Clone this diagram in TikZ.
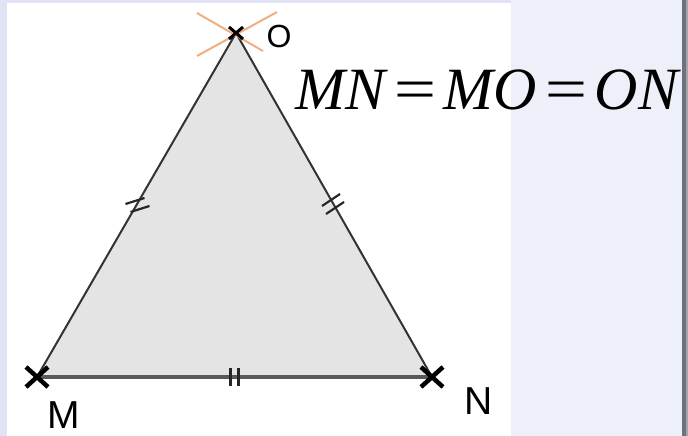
\documentclass[tikz,border=0pt]{standalone}
\usepackage{fontspec}
\usepackage{graphicx}
\setmainfont{Liberation Sans}
\newfontfamily\eqfont{Liberation Serif}
\usetikzlibrary{calc}
\definecolor{panelblue}{RGB}{237,240,249}
\definecolor{stripblue}{RGB}{224,227,245}
\definecolor{trifill}{RGB}{228,228,228}
\definecolor{arcorange}{RGB}{240,175,130}
\definecolor{framegray}{RGB}{108,114,130}
\newcommand{\wideeq}{\kern3.8pt\scalebox{1.25}[1]{=}\kern3.8pt}

\begin{document}
\begin{tikzpicture}[x=1pt,y=-1pt,
    crossmark/.style={line width=4.5pt,black},
    tickmark/.style={line width=2.2pt,black!85},
    ptlabel/.style={font=\fontsize{39}{39}\selectfont}]
  % fond et cadre
  \fill[stripblue] (0,0) rectangle (688,436);
  \fill[panelblue] (511,0) rectangle (688,436);
  \fill[white] (7,3) rectangle (511,436);
  \fill[framegray] (682,0) rectangle (686,436);
  \fill[black!35] (686,0) rectangle (688,436);

  % sommets
  \coordinate (O) at (236,33);
  \coordinate (M) at (37,377);
  \coordinate (N) at (432,377);

  % triangle
  \fill[trifill] (M) -- (N) -- (O) -- cycle;
  \draw[black!80,line width=2pt] (M) -- (O) -- (N);
  \draw[black!65,line width=3.5pt] (M) -- (N);

  % arcs de compas en O
  \draw[arcorange,line width=2pt] (197,13) -- (263,51);
  \draw[arcorange,line width=2pt] (197,56) -- (277,12);
  \draw[black,line width=3pt,shift={(O)}] (-7,-6) -- (7,6) (-7,6) -- (7,-6);

  % croix en M et N
  \draw[crossmark,shift={(M)}] (-11,-10) -- (11,10) (-11,10) -- (11,-10);
  \draw[crossmark,shift={(N)}] (-11,-10) -- (11,10) (-11,10) -- (11,-10);

  % codage des longueurs
  \coordinate (tMO) at ($(M)!0.5!(O)$);
  \coordinate (tON) at ($(O)!0.5!(N)$);
  \coordinate (tMN) at ($(M)!0.5!(N)$);
  \draw[tickmark,shift={(tMO)}] (-11,-1) -- (8,-7) (-6,7) -- (13,1);
  \draw[tickmark,shift={(tON)}] (-12,1) -- (6,-11) (-8,9) -- (10,-3);
  \draw[tickmark,shift={(tMN)}] (-4,-9) -- (-4,9) (4,-9) -- (4,9);

  % noms des points
  \node[font=\fontsize{32}{32}\selectfont] (lO) at (279,36) {O};
  \node[ptlabel] (lM) at (64,415) {M};
  \node[ptlabel] (lN) at (479,401) {N};

  % egalite
  \node[anchor=base west,inner sep=0pt,font=\eqfont\itshape\fontsize{60}{60}\selectfont] (eq)
    at (295,110) {MN\wideeq MO\wideeq ON};
\end{tikzpicture}
\end{document}
